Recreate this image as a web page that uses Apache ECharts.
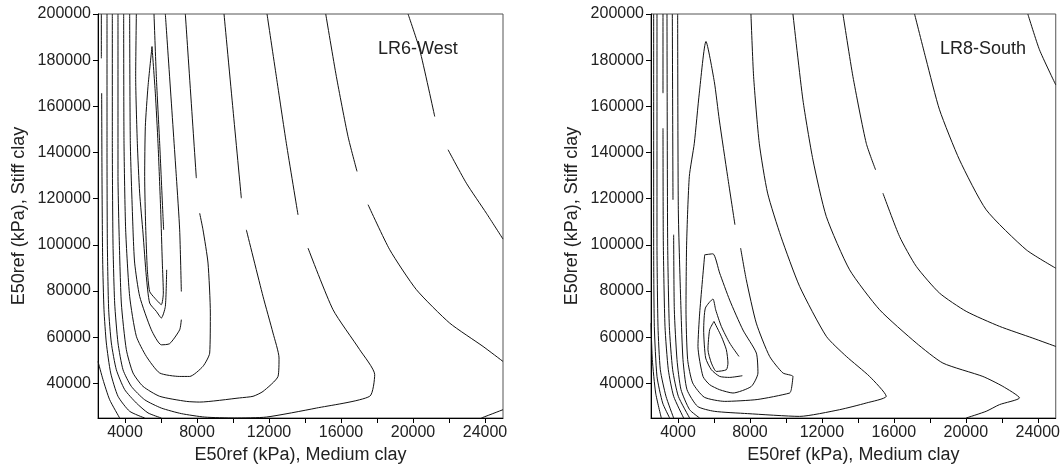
<!DOCTYPE html>
<html>
<head>
<meta charset="utf-8">
<script src="https://cdn.jsdelivr.net/npm/echarts@6/dist/echarts.min.js"></script>
<style>
html,body{margin:0;padding:0;background:#fff;}
#chart{width:1063px;height:475px;}
</style>
</head>
<body>
<div id="chart"></div>
<script>
// ---- axis ticks / labels ----
const xTickValues = [4000,6000,8000,10000,12000,14000,16000,18000,20000,22000,24000];
const xLabelValues = [4000,8000,12000,16000,20000,24000];
const yTickValues = [40000,60000,80000,100000,120000,140000,160000,180000,200000];
const xRange = [2500, 25000];
const yRange = [25000, 200000];
const panelNames = ['LR6-West', 'LR8-South'];
const xTitle = 'E50ref (kPa), Medium clay';
const yTitle = 'E50ref (kPa), Stiff clay';

// ---- contour lines, LR6-West (each line = list of segments, gaps = label breaks) ----
const west_A = [[[2500,49500],[2778,41600],[3148,32900],[3704,25000]]];
const west_B = [[[2685,200000],[2685,180800]],
  [[2704,165700],[2722,129600],[2759,93500],[2833,71900],[2963,57500],[3204,44500],[3611,34400],[4259,27900],[5093,25000]]];
const west_X = [[[3000,200000],[3000,144000],[3019,100800],[3093,71900],[3241,57500],[3519,45900],[3982,37300],[4630,31500],[5278,27200],[6019,25000]]];
const west_C = [[[3296,200000],[3296,144000],[3333,100800],[3426,74800],[3611,57500],[3889,45900],[4352,38700],[5093,32900],[6019,29300],[7130,26900],[8426,25400],[10093,25000],[11853,25400],[14631,29300],[17594,34400],[17872,43800],[17038,54600],[15557,71900],[14168,98600]],
  [[13612,113000],[12963,144000],[12408,172900],[11890,200000]]];
const west_D = [[[3611,200000],[3611,129600],[3667,106500],[3796,74800],[4074,54600],[4445,44500],[5000,38700],[5926,34400],[7408,32200],[8149,31900],[10371,33700],[11112,34400],[11667,36500],[12501,43000],[12557,51000],[12223,61800],[11667,77700],[10741,106500]],
  [[10464,120200],[10001,158500],[9501,200000]]];
const west_E = [[[3926,200000],[3945,144000],[4037,106500],[4259,77700],[4630,60400],[5185,51700],[5926,44500],[7037,43000],[7593,43000],[8334,47400],[8704,53100],[8741,70500],[8612,92100],[8334,106500],[8149,113700]],
  [[7963,128900],[7352,200000]]];
const west_F = [[[4259,200000],[4296,144000],[4445,106500],[4537,92100],[4815,77700],[5463,63200],[6019,56700],[6482,57200],[7037,63200],[7130,67600]],
  [[7130,79800],[7037,106500],[6852,129600],[6241,200000]]];
const west_G = [[[4630,200000],[4593,172900],[4685,144000],[4815,122400],[5000,105100],[5185,86300],[5370,74800],[5741,71200],[6019,68300],[6241,73300],[6315,89200]],
  [[6148,106500],[6111,112300],[5926,144000],[5741,172900],[5611,200000]]];
const west_L1 = [[[5500,185900],[5278,168600],[5130,151300],[5093,129600],[5148,108000],[5241,89200],[5370,79800],[5648,77000],[6019,74100],[6130,79100],[6074,92100],[5982,115200],[5834,144000],[5685,165700],[5500,185900]]];
const west_H = [[[15151,200000],[15743,172900],[16391,146900],[16891,131800]],
  [[17503,117400],[18706,97900],[20188,80600],[22040,66100],[23892,56000],[25000,49500]]];
const west_I = [[[19725,200000],[20373,184500],[21207,155600]],
  [[21947,141200],[22966,126700],[24077,113700],[25000,102500]]];
const west_J = [[[23799,25000],[25000,28600]]];

// ---- contour lines, LR8-South ----
const south_A = [[[2500,66100],[2574,50300],[2759,35800],[3074,25000]]];
const south_r1 = [[[2648,200000],[2648,100800],[2685,64700],[2833,43000],[3148,31500],[3537,25000]]];
const south_r2 = [[[2833,200000],[2833,100800],[2889,64700],[3019,45900],[3333,34400],[3759,25000]]];
const south_r3 = [[[3167,200000],[3167,165700]],
  [[3167,150500],[3185,100800],[3278,64700],[3463,45900],[3759,34400],[4315,25000]]];
const south_r4 = [[[3389,200000],[3426,100800],[3519,64700],[3704,45900],[4019,34400],[4648,25000]]];
const south_r5 = [[[3685,200000],[3722,119500]],
  [[3759,104400],[3796,71900],[3945,50300],[4167,37300],[4648,28600],[5204,25000]]];
const south_R5 = [[[3982,200000],[4019,115200],[4167,71900],[4278,50300],[4500,37300],[5093,30000],[6019,27900],[7871,26900],[10760,25700],[12984,28600],[14466,31500],[15577,34400],[14651,43000],[13355,51700],[12244,60400],[10762,82000],[9723,103600],[8982,122400],[8519,144000],[8204,172900],[8056,200000]]];
const south_K1 = [[[7482,98600],[7797,84900],[8352,66100],[9093,51700],[9834,44500],[10390,43000],[10297,37250],[10204,35800],[8400,33000],[6600,32200],[5463,34000],[4815,40200],[4537,50300],[4445,71900],[4482,100800],[4630,129600],[4907,144000],[5185,165700],[5556,188100],[6019,170700],[6297,154100],[6760,129600],[7167,108700]]];
const south_K2 = [[[5484,95690],[5945,96130],[6317,87770],[6873,76080],[7612,63100],[8356,53140],[8445,44480],[8078,38680],[7056,35820],[6317,37250],[5761,39430],[5389,43010],[5111,56000],[5206,70450],[5484,95690]]];
const south_K3 = [[[7389,51670],[6873,57470],[6411,64650],[6095,71880],[5945,76520],[5522,72620],[5428,63100],[5539,50970],[5856,45910],[6317,43010],[6873,42580],[7578,43310]]];
const south_K4 = [[[6000,66820],[5761,63230],[5667,54570],[5856,48810],[6134,45170],[6689,45910],[6778,48810],[6689,54570],[6411,60330],[6000,66820]]];
const south_R4 = [[[10390,200000],[10945,162800],[11503,136800],[12244,112300],[13540,89200],[15207,71900],[17244,57500],[18726,48800],[20948,43000],[22059,38700],[22985,33700],[21874,30800],[21133,27900],[20022,25000]]];
const south_R1 = [[[13170,200000],[13725,172900],[14466,144000],[14985,132500]],
  [[15392,122400],[16318,103600],[17244,90700],[18540,79100],[20022,71200],[21874,64700],[23726,59600],[25000,56000]]];
const south_R2 = [[[17151,200000],[17800,180100],[18540,158500],[19651,136800],[21133,115200],[23356,97900],[25000,89900]]];
const south_R3 = [[[23448,200000],[24096,184500],[25000,169300]]];

const westLines = [west_A, west_B, west_X, west_C, west_D, west_E, west_F, west_G, west_L1, west_H, west_I, west_J];
const southLines = [south_A, south_r1, south_r2, south_r3, south_r4, south_r5, south_R5, south_K1, south_K2, south_K3, south_K4, south_R4, south_R1, south_R2, south_R3];

const FONT = '"Liberation Sans", Arial, Helvetica, sans-serif';
const TXT = '#222';

function makeX(gi) {
  return {
    type: 'value', gridIndex: gi, min: xRange[0], max: xRange[1],
    name: xTitle, nameLocation: 'middle', nameGap: 26,
    nameTextStyle: {fontFamily: FONT, fontSize: 18, color: TXT},
    axisLine: {show: true, onZero: false, lineStyle: {color: '#000', width: 1}},
    axisTick: {show: true, inside: false, length: 5, customValues: xTickValues, lineStyle: {color: '#000'}},
    axisLabel: {show: true, margin: 7, customValues: xLabelValues, fontFamily: FONT, fontSize: 16, color: TXT,
      formatter: v => String(v)},
    splitLine: {show: false}
  };
}
function makeY(gi) {
  return {
    type: 'value', gridIndex: gi, min: yRange[0], max: yRange[1],
    name: yTitle, nameLocation: 'middle', nameGap: 70,
    nameTextStyle: {fontFamily: FONT, fontSize: 18, color: TXT},
    axisLine: {show: true, onZero: false, lineStyle: {color: '#000', width: 1}},
    axisTick: {show: true, inside: false, length: 5, customValues: yTickValues, lineStyle: {color: '#000'}},
    axisLabel: {show: true, margin: 7, customValues: yTickValues, fontFamily: FONT, fontSize: 16, color: TXT,
      formatter: v => String(v)},
    splitLine: {show: false}
  };
}

const series = [];
function addLines(lines, gi) {
  lines.forEach(line => line.forEach(seg => {
    series.push({
      type: 'line', xAxisIndex: gi, yAxisIndex: gi, data: seg,
      symbol: 'none', showSymbol: false, smooth: 0.2, silent: true, animation: false, clip: true,
      lineStyle: {color: '#111', width: 1}
    });
  }));
}
addLines(westLines, 0);
addLines(southLines, 1);

const chart = echarts.init(document.getElementById('chart'), null, {renderer: 'canvas'});
chart.setOption({
  animation: false,
  backgroundColor: '#fff',
  grid: [
    {left: 98, top: 14, width: 405, height: 404, show: true, borderColor: '#555', borderWidth: 1, backgroundColor: 'transparent'},
    {left: 651, top: 14, width: 405, height: 404, show: true, borderColor: '#555', borderWidth: 1, backgroundColor: 'transparent'}
  ],
  title: [
    {text: panelNames[0], left: 378, top: 40, padding: 0, textStyle: {fontFamily: FONT, fontSize: 18, fontWeight: 'normal', color: TXT}},
    {text: panelNames[1], left: 940, top: 40, padding: 0, textStyle: {fontFamily: FONT, fontSize: 18, fontWeight: 'normal', color: TXT}}
  ],
  xAxis: [makeX(0), makeX(1)],
  yAxis: [makeY(0), makeY(1)],
  series: series
});
</script>
</body>
</html>
